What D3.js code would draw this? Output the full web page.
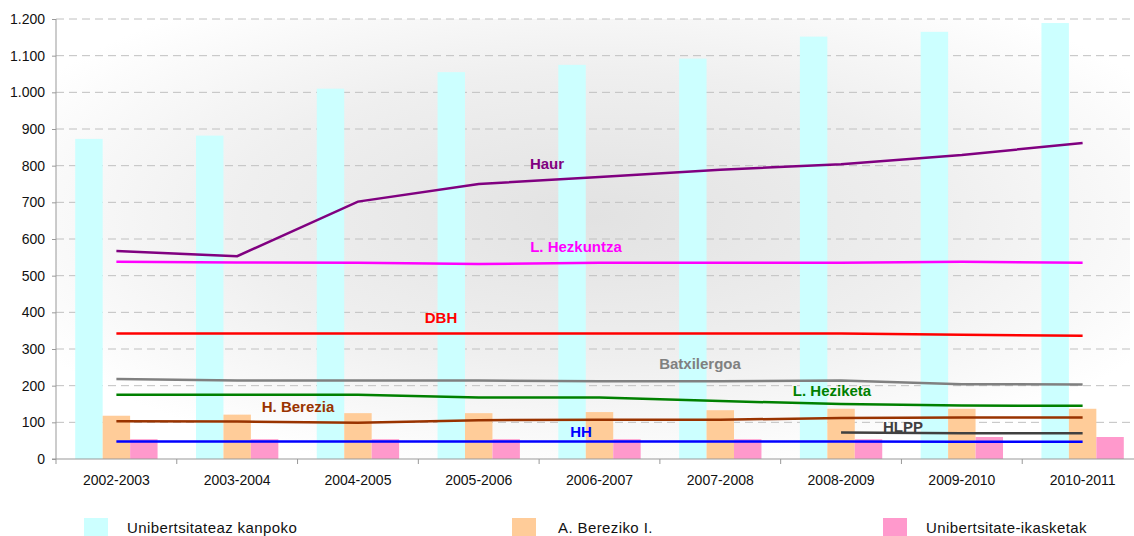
<!DOCTYPE html>
<html>
<head>
<meta charset="utf-8">
<script src="https://cdn.jsdelivr.net/npm/d3@7"></script>
<style>
  body { margin: 0; background: #fff; }
  svg { display: block; font-family: "Liberation Sans", Arial, sans-serif; }
</style>
</head>
<body>
<svg width="1134" height="536"></svg>
<script>
var svg = d3.select("svg");

// data
var years = ["2002-2003", "2003-2004", "2004-2005", "2005-2006", "2006-2007",
             "2007-2008", "2008-2009", "2009-2010", "2010-2011"];
var kanpoko = [873, 882, 1010, 1055, 1075, 1092, 1152, 1165, 1189];
var bereziko = [118, 121, 125, 125, 128, 133, 137, 137, 137];
var unibertsitate = [54, 54, 54, 54, 54, 54, 54, 60, 60];

var haur = [567, 553, 702, 750, 769, 789, 804, 829, 862];
var lHezkuntza = [538, 536, 535, 532, 535, 535, 535, 538, 535];
var dbh = [342, 342, 342, 342, 342, 342, 342, 339, 336];
var batxilergoa = [218, 214, 214, 214, 212, 212, 214, 204, 203];
var lHeziketa = [175, 175, 175, 168, 168, 158, 150, 146, 145];
var hBerezia = [103, 102, 99, 106, 107, 107, 112, 113, 113];
var hh = [48, 48, 48, 48, 48, 48, 48, 47, 47];
var hlpp = [null, null, null, null, null, null, 72, 70, 70];

var yTicks = [0, 100, 200, 300, 400, 500, 600, 700, 800, 900, 1000, 1100, 1200];

var barSeries = [
  {name: "Unibertsitateaz kanpoko", values: kanpoko, color: "#ccffff"},
  {name: "A. Bereziko I.", values: bereziko, color: "#ffcc99"},
  {name: "Unibertsitate-ikasketak", values: unibertsitate, color: "#ff99cc"}
];

// label spots
var lineSeries = [
  {name: "Haur", values: haur, color: "#800080", lx: 547, ly: 169},
  {name: "L. Hezkuntza", values: lHezkuntza, color: "#ff00ff", lx: 576, ly: 252},
  {name: "DBH", values: dbh, color: "#ff0000", lx: 441, ly: 323},
  {name: "Batxilergoa", values: batxilergoa, color: "#808080", lx: 700, ly: 369},
  {name: "L. Heziketa", values: lHeziketa, color: "#008000", lx: 832, ly: 396},
  {name: "H. Berezia", values: hBerezia, color: "#993300", lx: 298, ly: 412},
  {name: "HH", values: hh, color: "#0000ff", lx: 581, ly: 437},
  {name: "HLPP", values: hlpp, color: "#404040", lx: 903, ly: 432}
];

// plot box (note: "top" is a reserved window prop, so use mTop etc)
var mLeft = 56, mTop = 19, mBottom = 459, mRight = 1143, gridEnd = 1130;

var x = d3.scaleBand().domain(years).range([mLeft, mRight]);
var y = d3.scaleLinear().domain([0, 1200]).range([mBottom, mTop]);
var xInner = d3.scaleBand().domain(d3.range(barSeries.length))
  .range([0, x.bandwidth()]).paddingOuter(0.7).paddingInner(0);

// background gradient
var defs = svg.append("defs");
var grad = defs.append("radialGradient")
  .attr("id", "bg")
  .attr("cx", "0.5").attr("cy", "0.45")
  .attr("r", "0.6");
grad.append("stop").attr("offset", "0").attr("stop-color", "#e2e2e2");
grad.append("stop").attr("offset", "0.55").attr("stop-color", "#efefef");
grad.append("stop").attr("offset", "1").attr("stop-color", "#ffffff");

svg.append("rect")
  .attr("x", mLeft).attr("y", mTop)
  .attr("width", gridEnd - mLeft).attr("height", mBottom - mTop)
  .attr("fill", "url(#bg)");

// gridlines
svg.append("g")
  .selectAll("line")
  .data(yTicks.filter(function(d) { return d > 0; }))
  .join("line")
  .attr("x1", mLeft).attr("x2", gridEnd)
  .attr("y1", function(d) { return y(d); })
  .attr("y2", function(d) { return y(d); })
  .attr("stroke", "#c0c0c0")
  .attr("stroke-width", 1)
  .attr("stroke-dasharray", "8,5");

// bars
barSeries.forEach(function(s, i) {
  svg.append("g")
    .selectAll("rect")
    .data(s.values)
    .join("rect")
    .attr("x", function(d, j) { return x(years[j]) + xInner(i); })
    .attr("y", function(d) { return y(d); })
    .attr("width", xInner.bandwidth())
    .attr("height", function(d) { return mBottom - y(d); })
    .attr("fill", s.color);
});

// axes
var fmt = function(d) { return d3.format(",")(d).replace(/,/g, "."); };

var yAxis = svg.append("g")
  .attr("transform", "translate(" + mLeft + ",0)")
  .call(d3.axisLeft(y).tickValues(yTicks).tickFormat(fmt).tickSize(4).tickPadding(7));
yAxis.select(".domain").attr("stroke", "#999").attr("d", "M0," + mTop + "V" + mBottom);

var xAxis = svg.append("g")
  .attr("transform", "translate(0," + mBottom + ")")
  .call(d3.axisBottom(x).tickSize(0).tickPadding(16));
xAxis.select(".domain").attr("stroke", "#999").attr("d", "M" + (mLeft - 4) + ",0H" + mRight);
// category separators
xAxis.selectAll(".sep")
  .data(years)
  .join("line")
  .attr("class", "sep")
  .attr("x1", function(d) { return x(d); })
  .attr("x2", function(d) { return x(d); })
  .attr("y1", 0).attr("y2", 5)
  .attr("stroke", "#999");

svg.selectAll(".tick text")
  .attr("font-size", 14)
  .attr("fill", "#111")
  .attr("font-family", "'Liberation Sans', Arial, sans-serif");
yAxis.selectAll(".tick line").attr("stroke", "#999");

// lines
var line = d3.line()
  .defined(function(d) { return d != null; })
  .x(function(d, j) { return x(years[j]) + x.bandwidth() / 2; })
  .y(function(d) { return y(d); });

lineSeries.forEach(function(s) {
  svg.append("path")
    .datum(s.values)
    .attr("d", line)
    .attr("fill", "none")
    .attr("stroke", s.color)
    .attr("stroke-width", 2.5);
  svg.append("text")
    .attr("x", s.lx).attr("y", s.ly)
    .attr("text-anchor", "middle")
    .attr("font-size", 15)
    .attr("font-weight", "bold")
    .attr("fill", s.color)
    .text(s.name);
});

// legend
var legendX = [84, 512, 883];
var lg = svg.append("g").selectAll("g")
  .data(barSeries)
  .join("g")
  .attr("transform", function(d, i) { return "translate(" + legendX[i] + ",518)"; });
lg.append("rect")
  .attr("width", 24).attr("height", 18)
  .attr("fill", function(d) { return d.color; });
lg.append("text")
  .attr("x", function(d, i) { return i == 1 ? 46 : 43; })
  .attr("y", 14.5)
  .attr("font-size", 15)
  .attr("letter-spacing", 0.4)
  .attr("fill", "#111")
  .text(function(d) { return d.name; });
</script>
</body>
</html>
